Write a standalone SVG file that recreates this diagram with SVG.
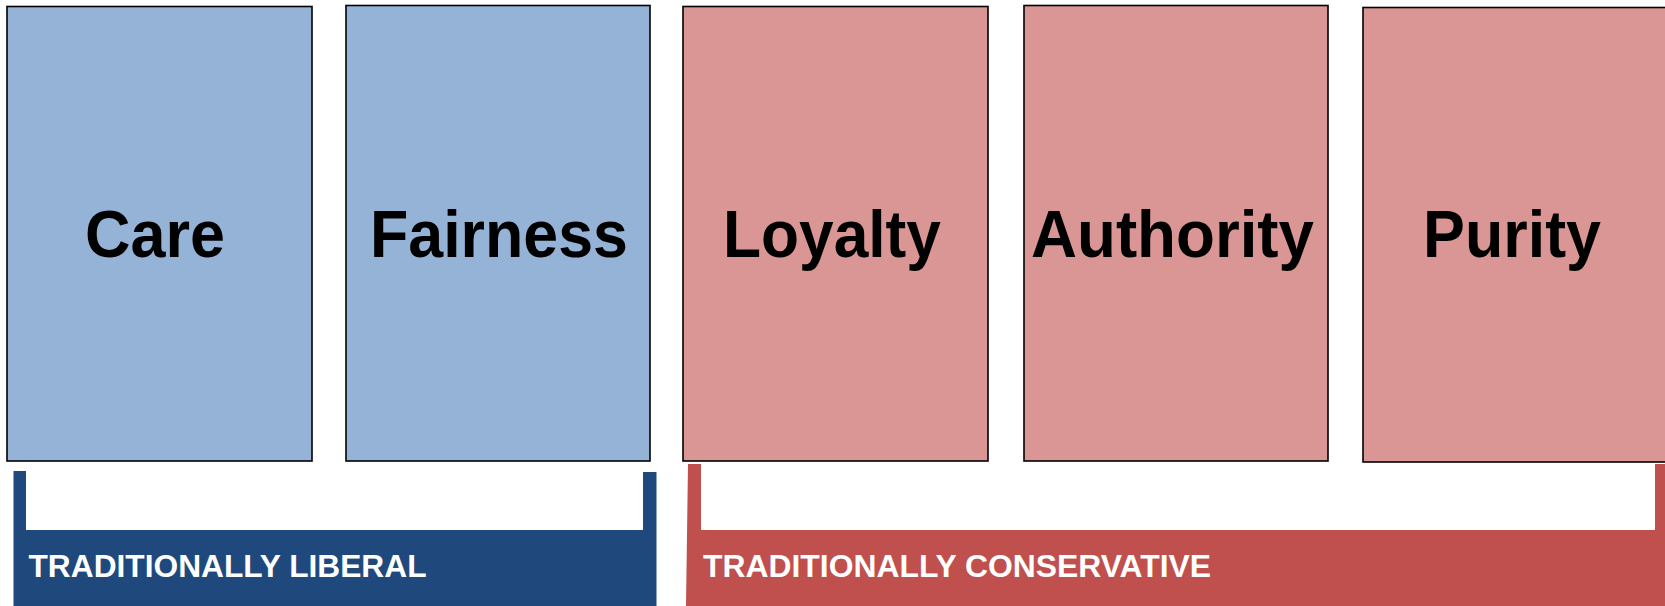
<svg xmlns="http://www.w3.org/2000/svg" width="1665" height="606" viewBox="0 0 1665 606">
<style>
.box{stroke:#000;stroke-width:1.6}
.lib{fill:#95B3D7}
.con{fill:#D99694}
.big{font-family:"Liberation Sans",Arial,sans-serif;font-weight:bold;font-size:66px;fill:#000}
.lab{font-family:"Liberation Sans",Arial,sans-serif;font-weight:bold;font-size:31.5px;fill:#fff}
</style>
<rect width="1665" height="606" fill="#fff"/>
<g id="care"><rect class="box lib" x="7" y="6.5" width="305" height="454.5"/><text class="big" x="85" y="257" textLength="140" lengthAdjust="spacingAndGlyphs">Care</text></g>
<g id="fairness"><rect class="box lib" x="346" y="5.5" width="304" height="455.5"/><text class="big" x="370" y="257" textLength="258" lengthAdjust="spacingAndGlyphs">Fairness</text></g>
<g id="loyalty"><rect class="box con" x="683" y="6.5" width="305" height="454.5"/><text class="big" x="723" y="257" textLength="218" lengthAdjust="spacingAndGlyphs">Loyalty</text></g>
<g id="authority"><rect class="box con" x="1024" y="5.5" width="304" height="455.5"/><text class="big" x="1031" y="257" textLength="283" lengthAdjust="spacingAndGlyphs">Authority</text></g>
<g id="purity"><rect class="box con" x="1363" y="7.5" width="310" height="454.5"/><text class="big" x="1423" y="257" textLength="178" lengthAdjust="spacingAndGlyphs">Purity</text></g>
<g id="liberal"><path fill="#1F497D" d="M13.5,471 H26 V530 H643 V472 H656.5 V606 H13.5 Z"/><text class="lab" x="28.5" y="577" textLength="398" lengthAdjust="spacingAndGlyphs">TRADITIONALLY LIBERAL</text></g>
<g id="conservative"><path fill="#C0504D" d="M688,464 H701 V530 H1655 V464 H1665 V606 H686 Z"/><text class="lab" x="703" y="577" textLength="508" lengthAdjust="spacingAndGlyphs">TRADITIONALLY CONSERVATIVE</text></g>
<g id="connectors"></g>
</svg>
